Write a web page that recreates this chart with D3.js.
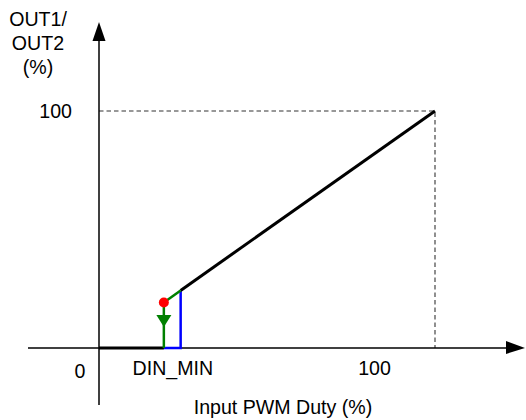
<!DOCTYPE html>
<html>
<head>
<meta charset="utf-8">
<script src="https://cdn.jsdelivr.net/npm/d3@7"></script>
<style>
  html, body { margin: 0; padding: 0; background: #fff; }
  svg { display: block; }
  text { font-family: Arial, "Liberation Sans", sans-serif; font-size: 19.6px; fill: #000; }
</style>
</head>
<body>
<svg id="chart" width="526" height="420"></svg>
<script>
// ---- data ----
const yLabelLines = ["OUT1/", "OUT2", "(%)"];
const xAxisTitle = "Input PWM Duty (%)";
const xTickLabels = [
  { label: "DIN_MIN", value: 19.3 },
  { label: "100", value: 82 }
];
const yTickLabels = [{ label: "100", value: 100 }];
const originLabel = "0";
// characteristic (input %, output %)
const offSegment = [[0, 0], [19.3, 0]];               // output zero below DIN_MIN
const rampLine = [[24.3, 24.3], [100, 100]];          // linear section
const greenSegment = [[19.3, 19.2], [24.3, 24.3]];    // ramp continuation down to DIN_MIN
const greenDrop = [[19.3, 19.2], [19.3, 0]];          // switch-off drop
const blueRise = [[19.3, 0], [24.3, 0], [24.3, 24.3]];// switch-on path
const redPoint = [19.3, 19.2];
const fullScale = [100, 100];

// ---- layout ----
const svg = d3.select("#chart");
const x = d3.scaleLinear().domain([0, 100]).range([99, 435]);
const y = d3.scaleLinear().domain([0, 100]).range([348, 111]);
const line = d3.line().x(d => x(d[0])).y(d => y(d[1]));

// dashed guides
svg.append("path")
  .attr("d", line([[0, fullScale[1]], fullScale, [fullScale[0], 0]]))
  .attr("fill", "none").attr("stroke", "#333").attr("stroke-width", 1.1)
  .attr("stroke-dasharray", "4.5,3");

// axes
const x0 = x(0), y0 = y(0);
svg.append("line").attr("x1", 28).attr("y1", y0).attr("x2", 508).attr("y2", y0)
  .attr("stroke", "#000").attr("stroke-width", 1.5);
svg.append("path").attr("d", `M525,${y0} L506,${y0 - 7} L506,${y0 + 6} Z`).attr("fill", "#000");
svg.append("line").attr("x1", x0).attr("y1", 405).attr("x2", x0).attr("y2", 38)
  .attr("stroke", "#000").attr("stroke-width", 1.5);
svg.append("path").attr("d", `M${x0},22 L${x0 - 6.5},41 L${x0 + 6.5},41 Z`).attr("fill", "#000");

// off segment (thick black along x-axis)
svg.append("path").attr("d", line(offSegment))
  .attr("fill", "none").attr("stroke", "#000").attr("stroke-width", 3);

// blue switch-on path
svg.append("path").attr("d", line(blueRise))
  .attr("fill", "none").attr("stroke", "#0000ff").attr("stroke-width", 2.5);

// ramp
svg.append("path").attr("d", line(rampLine))
  .attr("fill", "none").attr("stroke", "#000").attr("stroke-width", 3);

// green
svg.append("path").attr("d", line(greenSegment))
  .attr("fill", "none").attr("stroke", "#008000").attr("stroke-width", 2.5);
svg.append("path").attr("d", line(greenDrop))
  .attr("fill", "none").attr("stroke", "#008000").attr("stroke-width", 2.5);
const ax = x(greenDrop[0][0]);
svg.append("path").attr("d", `M${ax - 7.5},315 L${ax + 7.5},315 L${ax},327 Z`).attr("fill", "#008000");

// red point
svg.append("circle").attr("cx", x(redPoint[0])).attr("cy", y(redPoint[1])).attr("r", 5)
  .attr("fill", "#ff0000");

// labels
svg.append("text").attr("x", 38).attr("text-anchor", "middle")
  .selectAll("tspan").data(yLabelLines).join("tspan")
  .attr("x", 38).attr("y", (d, i) => 26 + i * 24).text(d => d);

svg.selectAll(".ytick").data(yTickLabels).join("text")
  .attr("x", x0 - 27).attr("y", d => y(d.value) + 7).attr("text-anchor", "end").text(d => d.label);

svg.append("text").attr("x", 80).attr("y", 378).attr("text-anchor", "middle").text(originLabel);

svg.selectAll(".xtick").data(xTickLabels).join("text")
  .attr("x", (d, i) => i === 0 ? x(d.value) + 9 : x(d.value))
  .attr("y", 375).attr("text-anchor", "middle").text(d => d.label);

svg.append("text").attr("x", 283).attr("y", 414).attr("text-anchor", "middle").text(xAxisTitle);
</script>
</body>
</html>
